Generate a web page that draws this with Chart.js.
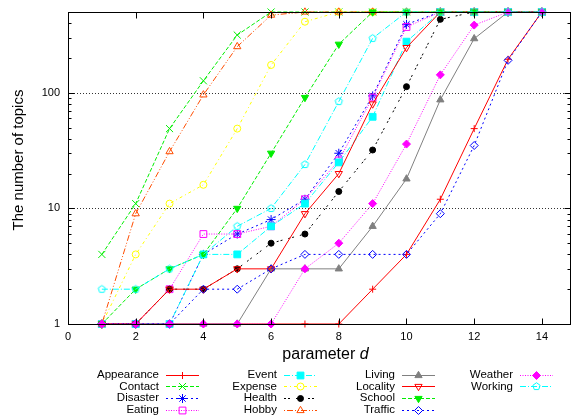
<!DOCTYPE html>
<html><head><meta charset="utf-8">
<script src="https://cdn.jsdelivr.net/npm/chart.js@4/dist/chart.umd.min.js"></script>
<style>html,body{margin:0;padding:0;background:#fff;overflow:hidden}canvas{display:block}</style>
</head><body>
<canvas id="c" width="577" height="416"></canvas>
<script>
// ---- data ----
const params = [1,2,3,4,5,6,7,8,9,10,11,12,13,14];
const seriesNames = ['Appearance','Contact','Disaster','Eating','Event','Expense','Health','Hobby','Living','Locality','School','Traffic','Weather','Working'];
const appearance = [1,1,1,1,1,1,1,1,2,4,12,49,195,500];
const contact    = [4,11,49,127,316,500,500,500,500,500,500,500,500,500];
const disaster   = [1,1,1,4,6,8,12,30,94,391,500,500,500,500];
const eating     = [1,1,2,6,6,7,12,26,91,371,500,500,500,500];
const eventS     = [1,1,1,4,4,7,11,25,62,277,500,500,500,500];
const expense    = [1,4,11,16,49,174,412,500,500,500,500,500,500,500];
const health     = [1,1,2,2,3,5,6,14,32,113,432,500,500,500];
const hobby      = [1,9,31,96,251,470,500,500,500,500,500,500,500,500];
const living     = [1,1,1,1,1,3,3,3,7,18,87,294,500,500];
const locality   = [1,1,2,2,3,3,9,20,80,246,500,500,500,500];
const school     = [1,2,3,4,10,30,91,263,500,500,500,500,500,500];
const traffic    = [1,1,1,2,2,3,4,4,4,4,9,35,191,500];
const weather    = [1,1,1,1,1,1,3,5,11,36,143,385,500,500];
const working    = [2,2,3,4,7,10,24,84,296,500,500,500,500,500];
const seriesValues = [appearance,contact,disaster,eating,eventS,expense,health,hobby,living,locality,school,traffic,weather,working];
const xTickValues = [0,2,4,6,8,10,12,14];
const yTickValues = [1,10,100];
const yMinorValues = [2,3,4,5,6,7,8,9,20,30,40,50,60,70,80,90,200,300,400];
const yGridValues = [10,100];
const xTitle = 'parameter ';
const xTitleItalic = 'd';
const yTitle = 'The number of topics';

// ---- styles ----
const FONT = "'Liberation Sans', Arial, Helvetica, sans-serif";
function pentagon(color, r){
  const s = Math.ceil(r*2+3);
  const c = document.createElement('canvas'); c.width = s; c.height = s;
  const g = c.getContext('2d'); g.strokeStyle = color; g.lineWidth = 1;
  g.beginPath();
  for (let k=0;k<5;k++){ const a=-Math.PI/2+k*2*Math.PI/5; g.lineTo(s/2+r*Math.cos(a), s/2+r*Math.sin(a)); }
  g.closePath(); g.stroke();
  return c;
}
const styles = [
 {color:'#ff0000', dash:[], point:'cross', r:3.5, fill:false},
 {color:'#00ee00', dash:[4,2], point:'crossRot', r:5, fill:false},
 {color:'#0000ff', dash:[2,3], point:'star', r:4.5, fill:false},
 {color:'#ff00ff', dash:[1,1.5], point:'rect', r:4.8, fill:false},
 {color:'#00ffff', dash:[6,2,1,2], point:'rect', r:4.8, fill:true},
 {color:'#ffff00', dash:[3,3,1,3], point:'circle', r:3.5, fill:false},
 {color:'#000000', dash:[2,2,2,6], point:'circle', r:3, fill:true},
 {color:'#ff4d00', dash:[1,2,6,2,1,2], point:'triangle', r:4.2, fill:false},
 {color:'#808080', dash:[], point:'triangle', r:4.2, fill:true},
 {color:'#ff0000', dash:[], point:'triangle', rot:180, r:4.2, fill:false},
 {color:'#00ee00', dash:[4,2], point:'triangle', rot:180, r:4.2, fill:true},
 {color:'#0000ff', dash:[2,3], point:'rectRot', r:4, fill:false},
 {color:'#ff00ff', dash:[1,1.5], point:'rectRot', r:4, fill:true},
 {color:'#00ffff', dash:[6,2,1,2], point:pentagon('#00ffff',3.8), r:4, fill:false}
];

const N = seriesNames.length;
const datasets = seriesNames.map((name,i)=>{
  const s = styles[i];
  return {
    label: name,
    data: params.map((p,j)=>({x:p, y:seriesValues[i][j]})),
    borderColor: s.color, borderWidth: 1, borderDash: s.dash,
    pointStyle: s.point, pointRadius: s.r, pointRotation: s.rot||0,
    pointBorderColor: s.color, pointBorderWidth: 1,
    pointBackgroundColor: s.fill ? s.color : 'rgba(0,0,0,0)',
    fill:false, tension:0, clip:false, order: N-1-i
  };
});

function line(ctx,x1,y1,x2,y2){ctx.beginPath();ctx.moveTo(x1,y1);ctx.lineTo(x2,y2);ctx.stroke();}

const decor = {
  id:'decor',
  beforeDatasetsDraw(chart){
    const {ctx, chartArea:a, scales:{y}} = chart;
    ctx.save(); ctx.strokeStyle='#333'; ctx.lineWidth=1; ctx.setLineDash([1,2]);
    for (const v of yGridValues){ const py=Math.round(y.getPixelForValue(v))+0.5; line(ctx,a.left,py,a.right,py); }
    ctx.restore();
  },
  afterDatasetsDraw(chart){
    const {ctx, chartArea:a, scales:{x,y}} = chart;
    ctx.save(); ctx.strokeStyle='#000'; ctx.lineWidth=1; ctx.setLineDash([]);
    const L=Math.round(a.left)+0.5, R=Math.round(a.right)-0.5, T=Math.round(a.top)+0.5, B=Math.round(a.bottom)+0.5;
    ctx.strokeRect(L,T,R-L,B-T);
    for (const v of xTickValues){ const px=Math.round(x.getPixelForValue(v))+0.5; line(ctx,px,B,px,B-6); line(ctx,px,T,px,T+6); }
    for (const v of yTickValues){ const py=Math.round(y.getPixelForValue(v))+0.5; line(ctx,L,py,L+6,py); line(ctx,R,py,R-6,py); }
    for (const v of yMinorValues){ const py=Math.round(y.getPixelForValue(v))+0.5; line(ctx,L,py,L+3,py); line(ctx,R,py,R-3,py); }
    ctx.restore();
  },
  afterDraw(chart){
    const ctx = chart.ctx;
    ctx.save();
    ctx.fillStyle='#000';
    // y title
    ctx.save(); ctx.translate(19,160); ctx.rotate(-Math.PI/2);
    ctx.font = '15px '+FONT; ctx.textAlign='center'; ctx.textBaseline='middle';
    ctx.fillText(yTitle,0,0); ctx.restore();
    // x title
    ctx.font = '16px '+FONT; ctx.textBaseline='alphabetic';
    const w1 = ctx.measureText(xTitle).width;
    ctx.font = 'italic 16px '+FONT;
    const w2 = ctx.measureText(xTitleItalic).width;
    const x0 = 325.5 - (w1+w2)/2;
    ctx.font = '16px '+FONT; ctx.textAlign='left'; ctx.fillText(xTitle,x0,359);
    ctx.font = 'italic 16px '+FONT; ctx.fillText(xTitleItalic,x0+w1,359);
    // legend
    const cols=[159,277,395,513];
    ctx.font = '11.5px '+FONT; ctx.textAlign='right'; ctx.textBaseline='middle';
    chart.data.datasets.forEach((ds,i)=>{
      const c = Math.floor(i/4), r = i%4;
      const tx = cols[c], ty = 374.5 + r*11.9;
      ctx.fillStyle='#000'; ctx.fillText(ds.label, tx, ty);
      const yy = Math.round(ty)+0.5;
      ctx.strokeStyle = ds.borderColor; ctx.lineWidth=1; ctx.setLineDash(ds.borderDash);
      line(ctx, tx+7, yy, tx+40, yy);
      ctx.setLineDash([]);
      ctx.fillStyle = ds.pointBackgroundColor; ctx.strokeStyle = ds.pointBorderColor;
      Chart.helpers.drawPoint(ctx, {pointStyle: ds.pointStyle, radius: ds.pointRadius, rotation: ds.pointRotation, borderWidth: 1}, tx+23.5, yy);
    });
    ctx.restore();
  }
};

function noPad(s){ s.paddingTop = 0; s.paddingBottom = 0; s.paddingLeft = 0; s.paddingRight = 0; }

new Chart(document.getElementById('c'), {
  type:'line',
  data:{datasets},
  plugins:[decor],
  options:{
    responsive:false, animation:false, devicePixelRatio:1,
    layout:{padding:{top:12,left:0,right:0,bottom:0}},
    plugins:{legend:{display:false}, tooltip:{enabled:false}},
    scales:{
      x:{type:'linear', min:0, max:14.86,
         grid:{display:false, drawTicks:false}, border:{display:false},
         ticks:{padding:6, color:'#000', font:{family:FONT,size:11}, maxRotation:0, autoSkip:false, callback:v=>String(v)},
         afterBuildTicks:s=>{ s.ticks = xTickValues.map(v=>({value:v})); },
         afterFit:s=>{ s.height = 92; noPad(s); }},
      y:{type:'logarithmic', min:1, max:500,
         grid:{display:false, drawTicks:false}, border:{display:false},
         ticks:{padding:8, color:'#000', font:{family:FONT,size:11}, autoSkip:false, callback:v=>String(v)},
         afterBuildTicks:s=>{ s.ticks = yTickValues.map(v=>({value:v})); },
         afterFit:s=>{ s.width = 68; noPad(s); }}
    }
  }
});
</script>
</body></html>
